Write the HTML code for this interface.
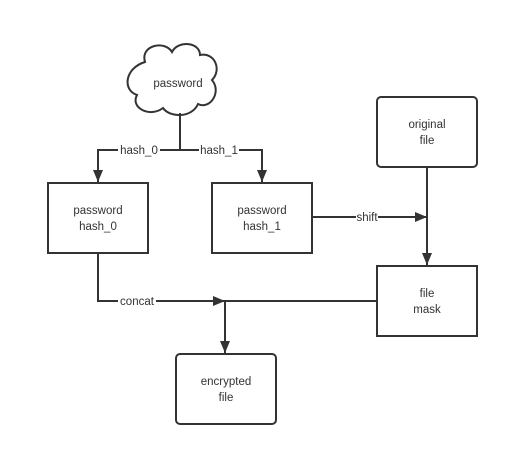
<!DOCTYPE html>
<html><head><style>body{margin:0;background:#fff}svg{display:block}</style></head><body>
<svg width="509" height="456" xmlns="http://www.w3.org/2000/svg" font-family="Liberation Sans, sans-serif" font-size="11.5" fill="#333">
<defs><marker id="a" markerWidth="12" markerHeight="12" refX="12" refY="6" orient="auto" markerUnits="userSpaceOnUse"><path d="M0,1 L12,6 L0,11 z" fill="#333"/></marker></defs>
<g stroke="#333" stroke-width="2" fill="none">
<path d="M145,62 C140,45 165,40 172,52 C178,40 200,42 200,55 C215,52 222,70 212,80 C222,92 210,110 198,104 C192,118 170,118 163,108 C150,118 130,108 137,95 C122,90 125,68 145,62 z" fill="#fff"/>
<path d="M180,113 V150 H98 V182" marker-end="url(#a)"/>
<path d="M180,150 H262 V182" marker-end="url(#a)"/>
<rect x="48" y="183" width="100" height="70" fill="#fff"/>
<rect x="212" y="183" width="100" height="70" fill="#fff"/>
<rect x="377" y="97" width="100" height="70" rx="4" fill="#fff"/>
<rect x="377" y="266" width="100" height="70" fill="#fff"/>
<rect x="176" y="354" width="100" height="70" rx="4" fill="#fff"/>
<path d="M312,217 H427" marker-end="url(#a)"/>
<path d="M427,167 V265" marker-end="url(#a)"/>
<path d="M98,253 V301 H225" marker-end="url(#a)"/>
<path d="M225,301 H377"/>
<path d="M225,301 V353" marker-end="url(#a)"/>
</g>
<g text-anchor="middle">
<text x="178" y="87">password</text>
<rect x="118" y="143" width="42" height="14" fill="#fff"/><text x="139" y="154">hash_0</text>
<rect x="199" y="143" width="40" height="14" fill="#fff"/><text x="219" y="154">hash_1</text>
<text x="98" y="214">password</text><text x="98" y="230">hash_0</text>
<text x="262" y="214">password</text><text x="262" y="230">hash_1</text>
<text x="427" y="128">original</text><text x="427" y="144">file</text>
<rect x="356" y="210" width="22" height="14" fill="#fff"/><text x="367" y="221">shift</text>
<text x="427" y="297">file</text><text x="427" y="313">mask</text>
<rect x="118" y="294" width="38" height="14" fill="#fff"/><text x="137" y="305">concat</text>
<text x="226" y="385">encrypted</text><text x="226" y="401">file</text>
</g>
</svg>
</body></html>
